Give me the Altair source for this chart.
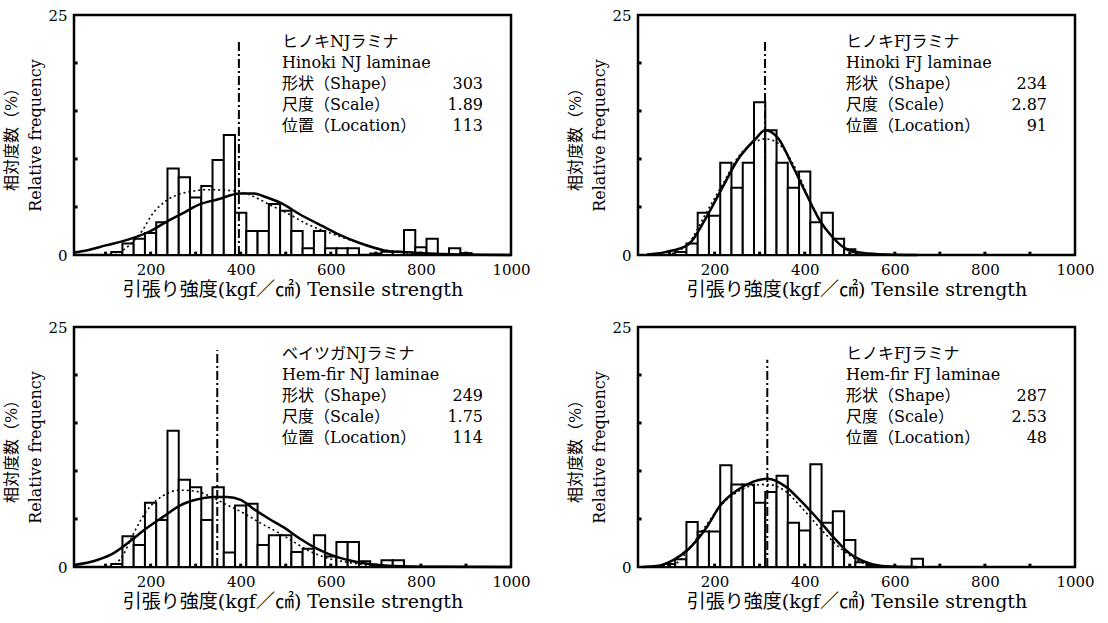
import altair as alt
import pandas as pd

# ---------------- data ----------------
X_DOMAIN = [30, 1000]
Y_DOMAIN = [0, 25]
X_LABELS = [200, 400, 600, 800, 1000]
Y_LABELS = [0, 25]
Y_INNER_TICKS = [5, 10, 15, 20]
X_INNER_TICKS = [100, 200, 300, 400, 500, 600, 700, 800, 900]
BIN_WIDTH = 25

X_TITLE = "引張り強度(kgf／㎠) Tensile strength"
Y_TITLE = ["相対度数（%）", "Relative frequency"]
ROW_LABELS = ["形状（Shape）", "尺度（Scale）", "位置（Location）"]

# Panel 1: Hinoki NJ laminae
p1_centers = [125, 150, 175, 200, 225, 250, 275, 300, 325, 350, 375, 400, 425, 450, 475, 500,
              525, 550, 575, 600, 625, 650, 675, 700, 725, 750, 775, 800, 825, 850, 875, 900]
p1_freq = [0.3, 1.2, 1.7, 2.3, 3.4, 9.0, 8.1, 6.0, 7.2, 9.9, 12.5, 4.4, 2.5, 2.5, 5.3, 4.6,
           2.5, 0.7, 2.5, 0.7, 0.7, 0.7, 0.0, 0.15, 0.35, 0.35, 2.6, 0.8, 1.7, 0.0, 0.7, 0.2]
p1_solid_x = [30, 60, 100, 150, 200, 233, 270, 305, 350, 398, 430, 452, 490, 529, 582, 620, 661, 700, 721, 760, 800, 850, 1000]
p1_solid_y = [0.25, 0.5, 1.0, 1.6, 2.5, 3.4, 4.3, 5.2, 5.8, 6.4, 6.4, 6.1, 5.4, 4.3, 3.0, 2.1, 1.3, 0.7, 0.45, 0.3, 0.2, 0.1, 0.0]
p1_dot_x = [120, 150, 181, 203, 233, 277, 329, 381, 418, 470, 506, 544, 598, 660, 722, 780, 850, 900]
p1_dot_y = [0.0, 0.9, 2.5, 4.2, 5.6, 6.5, 6.8, 6.7, 6.3, 5.1, 4.3, 3.3, 2.3, 1.3, 0.5, 0.2, 0.05, 0.0]
p1_mean, p1_mean_top = 396, 22.4

# Panel 2: Hinoki FJ laminae
p2_centers = [125, 150, 175, 200, 225, 250, 275, 300, 325, 350, 375, 400, 425, 450, 475, 500]
p2_freq = [0.3, 1.2, 4.4, 4.1, 9.6, 7.0, 9.6, 15.9, 13.0, 9.6, 7.0, 8.7, 3.4, 4.4, 1.7, 0.6]
p2_solid_x = [50, 90, 142, 179, 217, 254, 291, 312, 342, 372, 401, 431, 461, 490, 530, 580, 650]
p2_solid_y = [0.05, 0.3, 1.1, 3.7, 7.0, 10.1, 12.1, 13.0, 12.1, 9.4, 6.6, 3.8, 1.9, 0.7, 0.2, 0.05, 0.0]
p2_dot_x = [95, 142, 179, 217, 254, 291, 312, 342, 357, 387, 416, 446, 476, 498, 530]
p2_dot_y = [0.0, 1.2, 4.2, 7.3, 10.3, 11.8, 12.1, 11.6, 10.8, 8.3, 5.2, 2.8, 1.2, 0.4, 0.05]
p2_mean, p2_mean_top = 312, 22.5

# Panel 3: Hem-fir NJ laminae
p3_centers = [125, 150, 175, 200, 225, 250, 275, 300, 325, 350, 375, 400, 425, 450, 475, 500,
              525, 550, 575, 600, 625, 650, 675, 700, 725, 750]
p3_freq = [0.3, 3.2, 2.3, 6.7, 4.9, 14.2, 9.1, 8.3, 4.9, 8.3, 1.5, 6.4, 6.6, 2.3, 3.3, 3.3,
           1.55, 1.9, 3.3, 1.1, 2.6, 2.6, 0.6, 0.2, 0.7, 0.7]
p3_solid_x = [30, 80, 120, 155, 190, 230, 265, 300, 340, 370, 400, 430, 460, 500, 530, 570, 610, 660, 720, 800, 1000]
p3_solid_y = [0.2, 0.7, 1.5, 2.7, 4.0, 5.3, 6.4, 7.0, 7.3, 7.3, 7.0, 6.0, 5.1, 4.0, 3.0, 1.9, 1.1, 0.5, 0.15, 0.03, 0.0]
p3_dot_x = [111, 141, 155, 177, 199, 227, 263, 299, 335, 364, 407, 443, 479, 515, 551, 587, 650, 700, 750]
p3_dot_y = [0.0, 1.4, 2.8, 4.8, 6.3, 7.4, 8.0, 7.9, 7.3, 6.6, 5.6, 4.6, 3.7, 2.7, 1.7, 1.0, 0.4, 0.1, 0.0]
p3_mean, p3_mean_top = 348, 22.6

# Panel 4: Hem-fir FJ laminae
p4_centers = [100, 125, 150, 175, 200, 225, 250, 275, 300, 325, 350, 375, 400, 425, 450, 475,
              500, 525, 550, 650]
p4_freq = [0.3, 0.8, 4.7, 3.7, 3.7, 10.6, 8.6, 8.6, 6.7, 7.8, 9.5, 4.6, 3.8, 10.7, 4.6, 5.8,
           2.8, 0.5, 0.2, 0.86]
p4_solid_x = [40, 71, 107, 143, 179, 214, 250, 286, 318, 357, 393, 429, 464, 500, 536, 564, 600, 650]
p4_solid_y = [0.0, 0.1, 0.7, 1.9, 3.9, 6.5, 8.0, 8.9, 9.2, 8.4, 6.8, 5.0, 3.1, 1.4, 0.5, 0.15, 0.03, 0.0]
p4_dot_x = [50, 114, 143, 179, 214, 250, 286, 318, 357, 393, 429, 464, 500, 536, 570, 600]
p4_dot_y = [0.0, 0.4, 1.9, 4.2, 6.4, 7.8, 8.5, 8.6, 7.9, 6.2, 4.3, 2.6, 1.2, 0.3, 0.05, 0.0]
p4_mean, p4_mean_top = 317, 21.6

panels = [
    dict(c=p1_centers, f=p1_freq, sx=p1_solid_x, sy=p1_solid_y, dx=p1_dot_x, dy=p1_dot_y,
         m=p1_mean, mt=p1_mean_top, jp="ヒノキNJラミナ", en="Hinoki NJ laminae",
         vals=["303", "1.89", "113"]),
    dict(c=p2_centers, f=p2_freq, sx=p2_solid_x, sy=p2_solid_y, dx=p2_dot_x, dy=p2_dot_y,
         m=p2_mean, mt=p2_mean_top, jp="ヒノキFJラミナ", en="Hinoki FJ laminae",
         vals=["234", "2.87", "91"]),
    dict(c=p3_centers, f=p3_freq, sx=p3_solid_x, sy=p3_solid_y, dx=p3_dot_x, dy=p3_dot_y,
         m=p3_mean, mt=p3_mean_top, jp="ベイツガNJラミナ", en="Hem-fir NJ laminae",
         vals=["249", "1.75", "114"]),
    dict(c=p4_centers, f=p4_freq, sx=p4_solid_x, sy=p4_solid_y, dx=p4_dot_x, dy=p4_dot_y,
         m=p4_mean, mt=p4_mean_top, jp="ヒノキFJラミナ", en="Hem-fir FJ laminae",
         vals=["287", "2.53", "48"]),
]

FONT = "DejaVu Serif, Noto Sans CJK JP"
W, H = 437, 240
TICK_LEN_X = 8      # data units for inward y ticks
TICK_LEN_Y = 0.35   # data units for inward x ticks


def make_panel(p):
    xs = alt.Scale(domain=X_DOMAIN, nice=False, zero=False)
    ys = alt.Scale(domain=Y_DOMAIN, nice=False)
    xaxis = alt.Axis(values=X_LABELS, ticks=False, domain=False, grid=False, format="d",
                     labelFlush=False, labelOverlap=False, labelFont=FONT,
                     labelFontSize=15, labelPadding=7, labelColor="black",
                     title=X_TITLE, titleFont=FONT, titleFontSize=19,
                     titleFontWeight="normal", titlePadding=3, titleColor="black")
    yaxis = alt.Axis(values=Y_LABELS, ticks=False, domain=False, grid=False, format="d",
                     labelFont=FONT, labelFontSize=15, labelPadding=7,
                     labelColor="black", title=Y_TITLE, titleFont=FONT,
                     titleFontSize=16, titleFontWeight="normal",
                     titleLineHeight=24, titlePadding=4, titleColor="black")

    def X(field):
        return alt.X(field, scale=xs, axis=xaxis, title=X_TITLE)

    def Y(field):
        return alt.Y(field, scale=ys, axis=yaxis, title=Y_TITLE)

    bars_df = pd.DataFrame({
        "lo": [c - BIN_WIDTH / 2 for c in p["c"]],
        "hi": [c + BIN_WIDTH / 2 for c in p["c"]],
        "f": p["f"],
        "base": [0.0] * len(p["c"]),
    })
    bars = alt.Chart(bars_df).mark_rect(fill="white", stroke="black", strokeWidth=2).encode(
        x=X("lo:Q"), x2="hi:Q", y=Y("f:Q"), y2="base:Q")
    solid = alt.Chart(pd.DataFrame({"x": p["sx"], "y": p["sy"]})).mark_line(
        color="black", strokeWidth=2.5, interpolate="monotone").encode(
        x=X("x:Q"), y=Y("y:Q"))
    dotted = alt.Chart(pd.DataFrame({"x": p["dx"], "y": p["dy"]})).mark_line(
        color="black", strokeWidth=1.6, strokeDash=[2, 3], interpolate="monotone").encode(
        x=X("x:Q"), y=Y("y:Q"))
    mean_rule = alt.Chart(pd.DataFrame({"x": [p["m"]], "base": [0.0], "top": [p["mt"]]})).mark_rule(
        color="black", strokeWidth=2, strokeDash=[9, 3, 2, 3]).encode(
        x=X("x:Q"), y=Y("base:Q"), y2="top:Q")
    yt = pd.DataFrame({"y": Y_INNER_TICKS,
                       "x0": [X_DOMAIN[0]] * len(Y_INNER_TICKS),
                       "x1": [X_DOMAIN[0] + TICK_LEN_X] * len(Y_INNER_TICKS)})
    yticks = alt.Chart(yt).mark_rule(color="black", strokeWidth=3).encode(
        x=X("x0:Q"), x2="x1:Q", y=Y("y:Q"))
    xt = pd.DataFrame({"x": X_INNER_TICKS,
                       "y0": [0.0] * len(X_INNER_TICKS),
                       "y1": [TICK_LEN_Y] * len(X_INNER_TICKS)})
    xticks = alt.Chart(xt).mark_rule(color="black", strokeWidth=3).encode(
        x=X("x:Q"), y=Y("y0:Q"), y2="y1:Q")

    layers = [bars, dotted, solid, mean_rule, yticks, xticks]

    lines_left = [p["jp"], p["en"]] + ROW_LABELS
    for i, t in enumerate(lines_left):
        layers.append(alt.Chart(pd.DataFrame({"t": [t]})).mark_text(
            align="left", baseline="middle", font=FONT, fontSize=16, color="black").encode(
            x=alt.value(208), y=alt.value(27 + 21 * i), text="t:N"))
    for i, t in enumerate(p["vals"]):
        layers.append(alt.Chart(pd.DataFrame({"t": [t]})).mark_text(
            align="right", baseline="middle", font=FONT, fontSize=16, color="black").encode(
            x=alt.value(409), y=alt.value(27 + 21 * (i + 2)), text="t:N"))

    return alt.layer(*layers).properties(width=W, height=H)


charts = [make_panel(p) for p in panels]
top = alt.hconcat(charts[0], charts[1], spacing=34)
bottom = alt.hconcat(charts[2], charts[3], spacing=34)
chart = alt.vconcat(top, bottom, spacing=17).configure_view(
    stroke="black", strokeWidth=2.5
).configure_axis(
    labelFont=FONT, titleFont=FONT
).properties(
    padding={"left": 2, "top": 6, "right": 5, "bottom": 5},
    background="white",
)

chart.save("out.html", embed_options={"renderer": "svg", "actions": False})
